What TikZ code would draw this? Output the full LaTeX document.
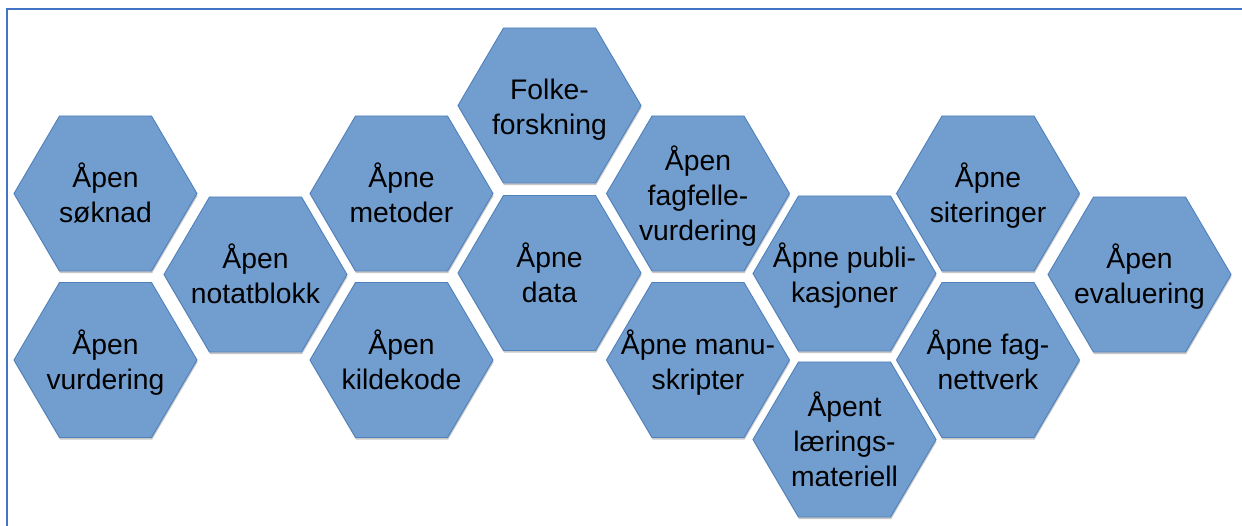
\documentclass[tikz,border=0pt]{standalone}
\usepackage{fontspec}
\setmainfont{Liberation Sans}
\usetikzlibrary{shadows}
\definecolor{hexfill}{RGB}{114,158,207}
\definecolor{hexline}{RGB}{79,129,189}
\definecolor{framec}{RGB}{68,114,196}
\tikzset{
  hexshape/.style={fill=hexfill, draw=hexline, line width=0.9pt, line join=miter,
    drop shadow={shadow xshift=0.6pt, shadow yshift=-2.2pt, opacity=0.22, fill=black}},
  hextext/.style={align=center, inner sep=0pt, text=black,
    font=\fontsize{28.3}{35}\selectfont},
  framestyle/.style={draw=framec, line width=2pt}
}
\newcommand\hexcell[4]{%
  \path[hexshape] (#2,#3) ++(-91.5,0) -- ++(45.5,-77.5) -- ++(92,0) -- ++(45.5,77.5)
     -- ++(-45.5,77.5) -- ++(-92,0) -- cycle;
  \node[hextext] (#1) at (#2,#3+4.5) {#4};}
\begin{document}
\begin{tikzpicture}[x=1pt,y=-1pt]
\useasboundingbox (0,0) rectangle (1242,526);
\draw[framestyle] (1243,9) -- (7,9) -- (7,527);
% column 1
\hexcell{soknad}{105.5}{193.5}{\strut Åpen\\\strut søknad}
\hexcell{vurd}{105.5}{360}{\strut Åpen\\\strut vurdering}
% column 2
\hexcell{notat}{255.5}{274.5}{\strut Åpen\\\strut notatblokk}
% column 3
\hexcell{metoder}{401.5}{193.5}{\strut Åpne\\\strut metoder}
\hexcell{kilde}{401.5}{360}{\strut Åpen\\\strut kildekode}
% column 4
\hexcell{folke}{549.5}{105.5}{\strut Folke-\\\strut forskning}
\hexcell{data}{549.5}{273}{\strut Åpne\\\strut data}
% column 5
\hexcell{fagfelle}{698}{193.5}{\strut Åpen\\\strut fagfelle-\\\strut vurdering}
\hexcell{manus}{698}{360}{\strut Åpne manu-\\\strut skripter}
% column 6
\hexcell{publ}{844.5}{273.5}{\strut Åpne publi-\\\strut kasjoner}
\hexcell{laering}{844.5}{439.5}{\strut Åpent\\\strut lærings-\\\strut materiell}
% column 7
\hexcell{siter}{988}{193.5}{\strut Åpne\\\strut siteringer}
\hexcell{nettverk}{988}{360}{\strut Åpne fag-\\\strut nettverk}
% column 8
\hexcell{eval}{1139.5}{274.5}{\strut Åpen\\\strut evaluering}
\end{tikzpicture}
\end{document}
